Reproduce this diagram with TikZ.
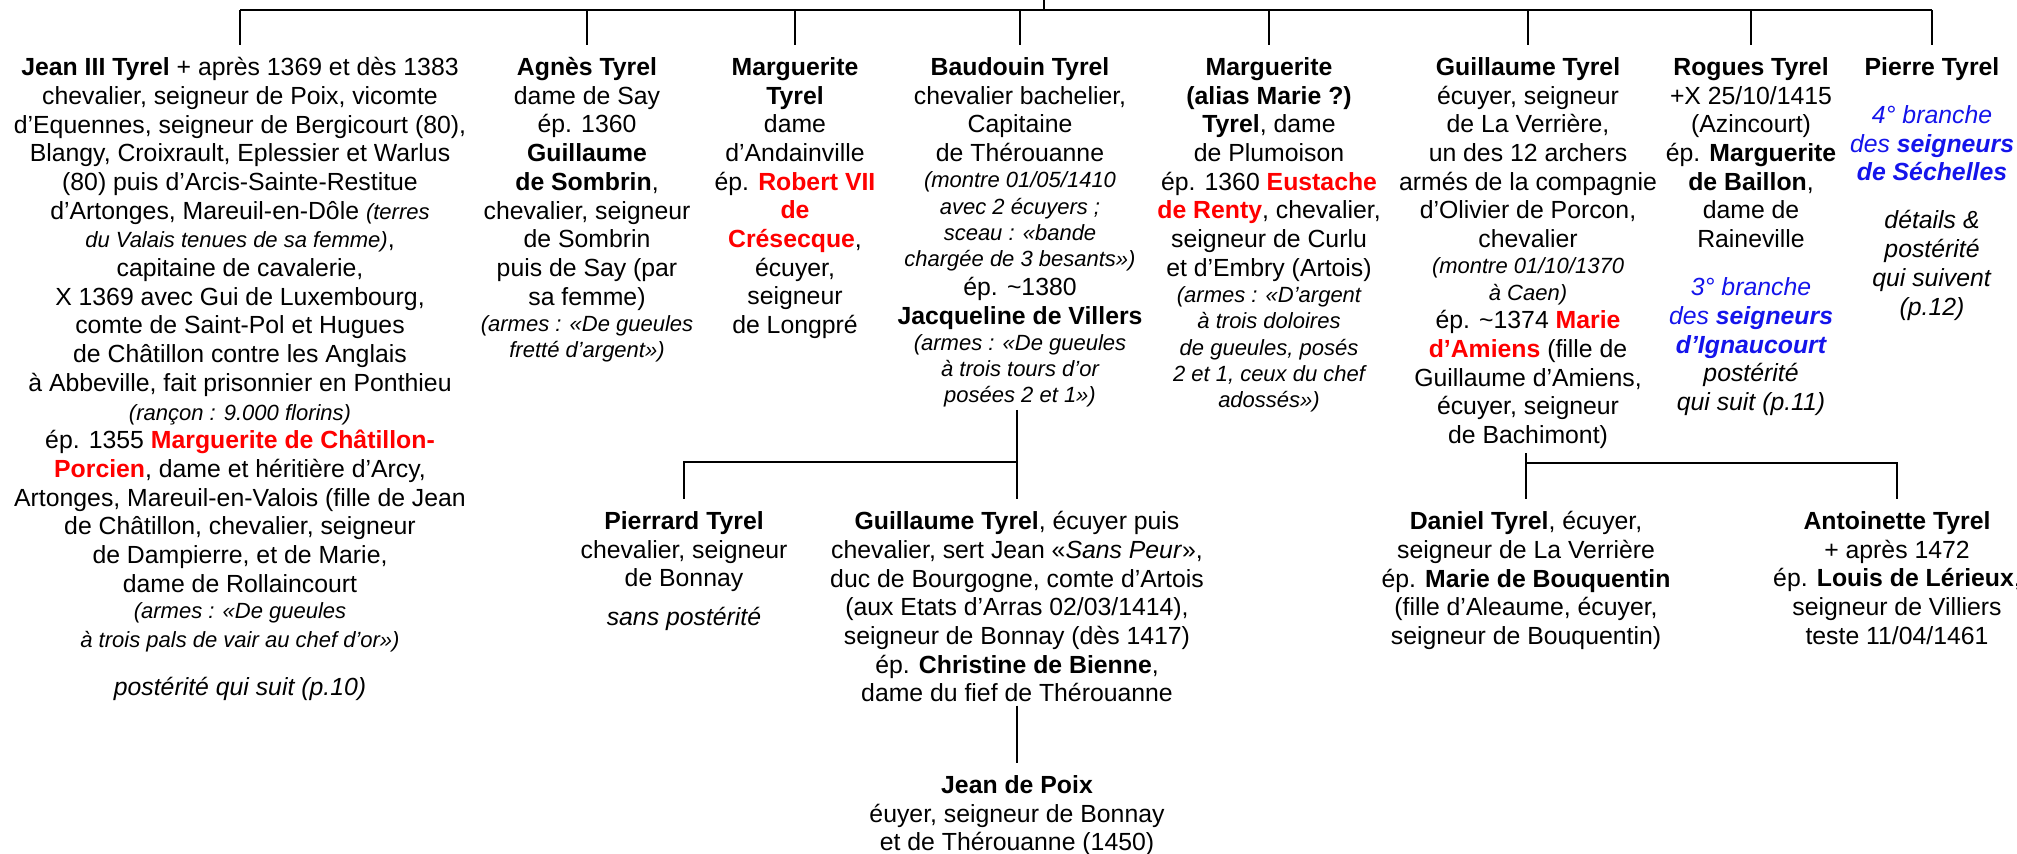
\documentclass[tikz,border=0pt]{standalone}
\usepackage{fontspec}
\setmainfont{Liberation Sans}
\usepackage{xcolor}
\usetikzlibrary{positioning}

\definecolor{branche}{RGB}{20,20,235}
\newcommand{\rouge}[1]{\textcolor{red}{\textbf{#1}}}
\newcommand{\bleu}[1]{\textcolor{branche}{\itshape #1}}
\newcommand{\armes}[1]{{\fontsize{11}{13}\selectfont\itshape #1}}

\tikzset{
  personne/.style={align=center, anchor=north, inner sep=0pt,
    font=\fontsize{12.4}{14.35}\selectfont},
  lien/.style={line width=1.3pt}
}

\begin{document}
\begin{tikzpicture}[x=0.5pt,y=-0.5pt]
\useasboundingbox (0,0) rectangle (2017,854);
% nodes
\node[personne] (jean) at (240,57) {\textbf{Jean III Tyrel} + après 1369 et dès 1383\\
 chevalier, seigneur de Poix, vicomte\\
 d’Equennes, seigneur de Bergicourt (80),\\
 Blangy, Croixrault, Eplessier et Warlus\\
 (80) puis d’Arcis-Sainte-Restitue\\
 d’Artonges, Mareuil-en-Dôle \armes{(terres}\\
 \armes{du Valais tenues de sa femme)},\\
 capitaine de cavalerie,\\
 X 1369 avec Gui de Luxembourg,\\
 comte de Saint-Pol et Hugues\\
 de Châtillon contre les Anglais\\
 à Abbeville, fait prisonnier en Ponthieu\\
 \armes{(rançon : 9.000 florins)}\\
 ép. 1355 \rouge{Marguerite de Châtillon-}\\
 \rouge{Porcien}, dame et héritière d’Arcy,\\
 Artonges, Mareuil-en-Valois (fille de Jean\\
 de Châtillon, chevalier, seigneur\\
 de Dampierre, et de Marie,\\
 dame de Rollaincourt\\[-1.2pt]
 \armes{(armes : «De gueules}\\
 \armes{à trois pals de vair au chef d’or»)}\\[9.7pt]
 \textit{postérité qui suit (p.10)}};
\node[personne] (agnes) at (587,57) {\textbf{Agnès Tyrel}\\
 dame de Say\\
 ép. 1360\\
 \textbf{Guillaume}\\
 \textbf{de Sombrin},\\
 chevalier, seigneur\\
 de Sombrin\\
 puis de Say (par\\
 sa femme)\\[-1.2pt]
 \armes{(armes : «De gueules}\\[-1.2pt]
 \armes{fretté d’argent»)}};
\node[personne] (margt) at (795,57) {\textbf{Marguerite}\\
 \textbf{Tyrel}\\
 dame\\
 d’Andainville\\
 ép. \rouge{Robert VII}\\
 \rouge{de}\\
 \rouge{Crésecque},\\
 écuyer,\\
 seigneur\\
 de Longpré};
\node[personne] (baud) at (1020,57) {\textbf{Baudouin Tyrel}\\
 chevalier bachelier,\\
 Capitaine\\
 de Thérouanne\\[-1.2pt]
 \armes{(montre 01/05/1410}\\[-1.2pt]
 \armes{avec 2 écuyers ;}\\[-1.2pt]
 \armes{sceau : «bande}\\[-1.2pt]
 \armes{chargée de 3 besants»)}\\
 ép. \textasciitilde1380\\
 \textbf{Jacqueline de Villers}\\[-1.2pt]
 \armes{(armes : «De gueules}\\[-1.2pt]
 \armes{à trois tours d’or}\\[-1.2pt]
 \armes{posées 2 et 1»)}};
\node[personne] (marie) at (1269,57) {\textbf{Marguerite}\\
 \textbf{(alias Marie ?)}\\
 \textbf{Tyrel}, dame\\
 de Plumoison\\
 ép. 1360 \rouge{Eustache}\\
 \rouge{de Renty}, chevalier,\\
 seigneur de Curlu\\
 et d’Embry (Artois)\\[-1.2pt]
 \armes{(armes : «D’argent}\\[-1.2pt]
 \armes{à trois doloires}\\[-1.2pt]
 \armes{de gueules, posés}\\[-1.2pt]
 \armes{2 et 1, ceux du chef}\\[-1.2pt]
 \armes{adossés»)}};
\node[personne] (guil) at (1528,57) {\textbf{Guillaume Tyrel}\\
 écuyer, seigneur\\
 de La Verrière,\\
 un des 12 archers\\
 armés de la compagnie\\
 d’Olivier de Porcon,\\
 chevalier\\[-1.2pt]
 \armes{(montre 01/10/1370}\\[-1.2pt]
 \armes{à Caen)}\\
 ép. \textasciitilde1374 \rouge{Marie}\\
 \rouge{d’Amiens} (fille de\\
 Guillaume d’Amiens,\\
 écuyer, seigneur\\
 de Bachimont)};
\node[personne] (rogues) at (1751,57) {\textbf{Rogues Tyrel}\\
 +X 25/10/1415\\
 (Azincourt)\\
 ép. \textbf{Marguerite}\\
 \textbf{de Baillon},\\
 dame de\\
 Raineville\\[9.7pt]
 \bleu{3° branche}\\
 \bleu{des \textbf{seigneurs}}\\
 \bleu{\textbf{d’Ignaucourt}}\\
 \textit{postérité}\\
 \textit{qui suit (p.11)}};
\node[personne] (pierre) at (1932,57) {\textbf{Pierre Tyrel}\\[9.7pt]
 \bleu{4° branche}\\
 \bleu{des \textbf{seigneurs}}\\
 \bleu{\textbf{de Séchelles}}\\[9.7pt]
 \textit{détails \&}\\
 \textit{postérité}\\
 \textit{qui suivent}\\
 \textit{(p.12)}};
\node[personne] (pierrard) at (684,511) {\textbf{Pierrard Tyrel}\\
 chevalier, seigneur\\
 de Bonnay\\[4.8pt]
 \textit{sans postérité}};
\node[personne] (gchild) at (1017,511) {\textbf{Guillaume Tyrel}, écuyer puis\\
 chevalier, sert Jean «\textit{Sans Peur}»,\\
 duc de Bourgogne, comte d’Artois\\
 (aux Etats d’Arras 02/03/1414),\\
 seigneur de Bonnay (dès 1417)\\
 ép. \textbf{Christine de Bienne},\\
 dame du fief de Thérouanne};
\node[personne] (poix) at (1017,775) {\textbf{Jean de Poix}\\
 éuyer, seigneur de Bonnay\\
 et de Thérouanne (1450)};
\node[personne] (daniel) at (1526,511) {\textbf{Daniel Tyrel}, écuyer,\\
 seigneur de La Verrière\\
 ép. \textbf{Marie de Bouquentin}\\
 (fille d’Aleaume, écuyer,\\
 seigneur de Bouquentin)};
\node[personne] (antoi) at (1897,511) {\textbf{Antoinette Tyrel}\\
 + après 1472\\
 ép. \textbf{Louis de Lérieux},\\
 seigneur de Villiers\\
 teste 11/04/1461};
% junctions
\coordinate (racine) at (1044,0);
\coordinate (barre) at (1044,10);
\coordinate (jb) at (1017,462);
\coordinate (jg) at (1526,463);
% edges
\draw[lien] (racine) -- (barre);
\draw[lien] (barre -| jean) -- (barre -| pierre);
\foreach \n in {jean,agnes,margt,baud,marie,guil,rogues,pierre}
  \draw[lien] (barre -| \n) -- ([yshift=6pt]\n.north);
\draw[lien] ([yshift=-1pt]baud.south -| jb) |- (pierrard |- jb) -- ([yshift=6pt]pierrard.north);
\draw[lien] (jb) -- ([yshift=6pt]gchild.north);
\draw[lien] ([yshift=-2pt]guil.south -| jg) |- (antoi |- jg) -- ([yshift=6pt]antoi.north);
\draw[lien] (jg) -- ([yshift=6pt]daniel.north);
\draw[lien] ([yshift=-1.5pt]gchild.south) -- ([yshift=6pt]poix.north);
\end{tikzpicture}
\end{document}
